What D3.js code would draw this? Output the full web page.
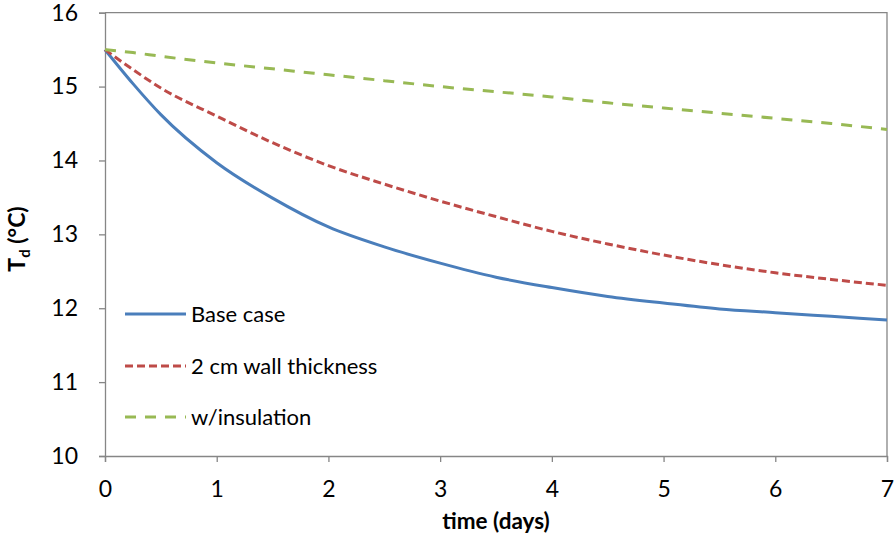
<!DOCTYPE html>
<html>
<head>
<meta charset="utf-8">
<script src="https://cdn.jsdelivr.net/npm/d3@7"></script>
<style>
  html, body { margin: 0; padding: 0; background: #fff; }
  svg { display: block; }
  text { font-family: Lato, "Open Sans", sans-serif; fill: #000; }
</style>
</head>
<body>
<svg id="chart" width="896" height="539"></svg>
<script>
const days          = [0, 0.25, 0.5, 1, 1.5, 2, 2.5, 3, 3.5, 4, 4.5, 5, 5.5, 6, 6.5, 7];
const baseCase      = [15.5, 15.04, 14.62, 13.97, 13.49, 13.10, 12.83, 12.61, 12.42, 12.28, 12.16, 12.07, 11.99, 11.94, 11.89, 11.84];
const wallThickness = [15.5, 15.23, 14.98, 14.60, 14.24, 13.93, 13.68, 13.45, 13.24, 13.04, 12.87, 12.72, 12.59, 12.48, 12.39, 12.31];
const insulation    = [15.5, 15.46, 15.41, 15.32, 15.24, 15.16, 15.08, 15.00, 14.93, 14.86, 14.78, 14.71, 14.64, 14.57, 14.50, 14.42];
const xTicks = [0, 1, 2, 3, 4, 5, 6, 7];
const yTicks = [10, 11, 12, 13, 14, 15, 16];
const seriesNames = ["Base case", "2 cm wall thickness", "w/insulation"];

const series = [
  { name: seriesNames[0], values: baseCase,      color: "#4A7EBB", dash: null },
  { name: seriesNames[1], values: wallThickness, color: "#BE4B48", dash: "8,4" },
  { name: seriesNames[2], values: insulation,    color: "#98B954", dash: "11,9" }
];

const svg = d3.select("#chart");
const pLeft = 105, pRight = 887, pTop = 12.7, pBottom = 456;

const x = d3.scaleLinear().domain([0, 7]).range([pLeft, pRight]);
const y = d3.scaleLinear().domain([10, 16]).range([pBottom, pTop]);

const axisColor = "#868686";

// plot frame (top & right)
svg.append("path")
  .attr("d", `M${pLeft},${pTop}H${pRight}V${pBottom}`)
  .attr("fill", "none").attr("stroke", axisColor).attr("stroke-width", 1.3);

// x axis
const gx = svg.append("g").attr("transform", `translate(0,${pBottom})`)
  .call(d3.axisBottom(x).tickValues(xTicks).tickSize(6).tickPadding(19).tickFormat(d3.format("d")));
gx.select(".domain").attr("stroke", axisColor).attr("stroke-width", 1.3);
gx.selectAll(".tick line").attr("stroke", axisColor).attr("stroke-width", 1.3);
gx.selectAll(".tick text").attr("font-size", 23).attr("font-family", "Lato, sans-serif").attr("fill", "#000");

// y axis
const gy = svg.append("g").attr("transform", `translate(${pLeft},0)`)
  .call(d3.axisLeft(y).tickValues(yTicks).tickSize(6).tickPadding(21).tickFormat(d3.format("d")));
gy.select(".domain").attr("stroke", axisColor).attr("stroke-width", 1.3);
gy.selectAll(".tick line").attr("stroke", axisColor).attr("stroke-width", 1.3);
gy.selectAll(".tick text").attr("font-size", 23).attr("font-family", "Lato, sans-serif").attr("fill", "#000");

// lines
const line = d3.line()
  .x((d, i) => x(days[i]))
  .y(d => y(d))
  .curve(d3.curveMonotoneX);

series.forEach(s => {
  svg.append("path")
    .datum(s.values)
    .attr("d", line)
    .attr("fill", "none")
    .attr("stroke", s.color)
    .attr("stroke-width", 3)
    .attr("stroke-dasharray", s.dash);
});

// legend
const legendY = [314, 366, 417];
series.forEach((s, i) => {
  svg.append("line")
    .attr("x1", 125).attr("x2", 186)
    .attr("y1", legendY[i]).attr("y2", legendY[i])
    .attr("stroke", s.color).attr("stroke-width", 3)
    .attr("stroke-dasharray", s.dash);
  svg.append("text")
    .attr("x", 191).attr("y", legendY[i])
    .attr("dy", "0.36em")
    .attr("font-size", 22)
    .text(s.name);
});

// axis titles
svg.append("text")
  .attr("x", (pLeft + pRight) / 2).attr("y", 529)
  .attr("text-anchor", "middle")
  .attr("font-size", 22.5).attr("font-weight", "bold")
  .text("time (days)");

const yt = svg.append("text")
  .attr("transform", "translate(25,239) rotate(-90)")
  .attr("text-anchor", "middle")
  .attr("font-size", 23).attr("font-weight", "bold");
yt.append("tspan").text("T");
yt.append("tspan").attr("font-size", 15).attr("dy", 5).text("d");
yt.append("tspan").attr("dy", -5).text(" (°C)");
</script>
</body>
</html>
